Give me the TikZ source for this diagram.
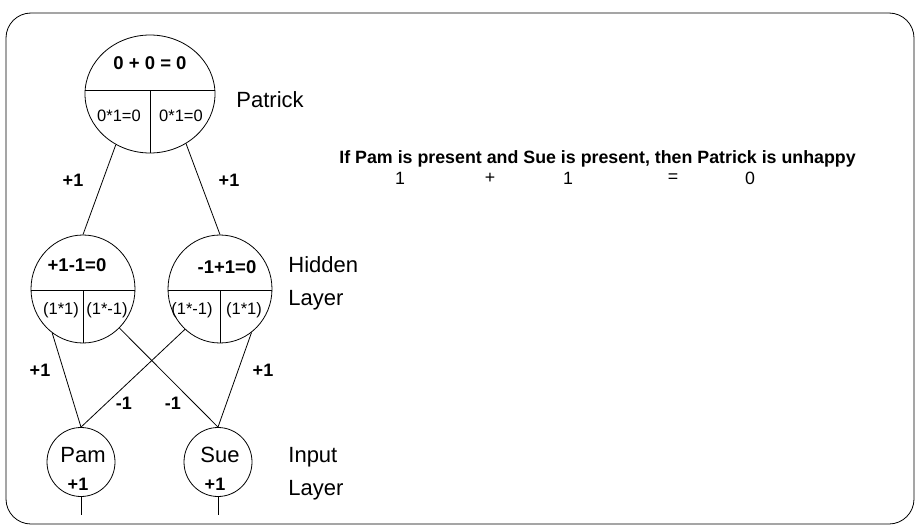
\documentclass[tikz,border=0pt]{standalone}
\usepackage{fontspec}
\setmainfont{Liberation Sans}
\usetikzlibrary{shapes.geometric}

\begin{document}
\begin{tikzpicture}[x=1pt, y=-1pt, line width=0.8pt,
  unit/.style={draw, ellipse, inner sep=0pt},
  lbl/.style={font=\fontsize{22}{26}\selectfont, inner sep=1pt},
  sum/.style={font=\bfseries\fontsize{18.5}{22}\selectfont, inner sep=1pt},
  part/.style={font=\fontsize{16.5}{20}\selectfont, inner sep=1pt},
  wt/.style={font=\bfseries\fontsize{18}{22}\selectfont, inner sep=1pt},
  rule/.style={font=\bfseries\fontsize{17.8}{22}\selectfont, inner sep=1pt},
  val/.style={font=\fontsize{17.8}{22}\selectfont, inner sep=1pt}]
  \useasboundingbox (0,0) rectangle (915,527);
  \draw[rounded corners=25pt] (6,13) rectangle (914,524);
  % output unit
  \node[unit, minimum width=130pt, minimum height=118pt] (pat) at (150,94) {};
  \draw ([yshift=4pt]pat.west) -- ([yshift=4pt]pat.east);
  \draw ([yshift=4pt]pat.center) -- (pat.south);
  \node[sum] (patsum) at (150,63) {0 + 0 = 0};
  \node[part] (patl) at (119,116) {0*1=0};
  \node[part] (patr) at (181,116) {0*1=0};
  \node[lbl, anchor=west] (patname) at (235,100) {Patrick};
  % hidden units
  \node[unit, minimum width=104pt, minimum height=108pt] (hida) at (83,289) {};
  \draw ([yshift=-1pt]hida.west) -- ([yshift=-1pt]hida.east);
  \draw ([yshift=-1pt]hida.center) -- (hida.south);
  \node[sum] (hidasum) at (77,265) {+1-1=0};
  \node[part] (hidal) at (61,310) {(1*1)};
  \node[part] (hidar) at (107,310) {(1*-1)};
  \node[unit, minimum width=104pt, minimum height=108pt] (hidb) at (220,289) {};
  \draw ([yshift=-1pt]hidb.west) -- ([yshift=-1pt]hidb.east);
  \draw ([yshift=-1pt]hidb.center) -- (hidb.south);
  \node[sum] (hidbsum) at (227,267) {-1+1=0};
  \node[part] (hidbl) at (192,310) {(1*-1)};
  \node[part] (hidbr) at (244,310) {(1*1)};
  \node[lbl, anchor=west] (hidname) at (287,265) {Hidden};
  \node[lbl, anchor=west] (hidlayer) at (287,300) {Layer};
  % input units
  \node[unit, minimum width=68pt, minimum height=69pt] (pam) at (81,462) {};
  \node[lbl] (pamname) at (83,455) {Pam};
  \node[wt] (pamval) at (78,484) {+1};
  \node[unit, minimum width=68pt, minimum height=69pt] (sue) at (218,462) {};
  \node[lbl] (suename) at (220,455) {Sue};
  \node[wt] (sueval) at (215,484) {+1};
  \node[lbl, anchor=west] (inname) at (287,457) {Input};
  \node[lbl, anchor=west] (inlayer) at (287,490) {Layer};
  \coordinate (pamin) at (81,515);
  \coordinate (suein) at (218,515);
  % connections
  \draw (pat.236) -- (hida.90);
  \draw (pat.306) -- (hidb.90);
  \draw (hida.235) -- (pam.90);
  \draw (hida.313) -- (sue.90);
  \draw (hidb.229) -- (pam.90);
  \draw (hidb.306) -- (sue.90);
  \draw (pam.south) -- (pamin);
  \draw (sue.south) -- (suein);
  % weights
  \node[wt] (w1) at (73,180) {+1};
  \node[wt] (w2) at (229,180) {+1};
  \node[wt] (w3) at (40,370) {+1};
  \node[wt] (w4) at (263,370) {+1};
  \node[wt] (w5) at (124,403) {-1};
  \node[wt] (w6) at (173,403) {-1};
  % rule
  \node[rule, anchor=west] (ruletext) at (338,159) {If Pam is present and Sue is present, then Patrick is unhappy};
  \node[val] (r1) at (400,178) {1};
  \node[val] (r2) at (490,178) {+};
  \node[val] (r3) at (568,178) {1};
  \node[val] (r4) at (673,178) {=};
  \node[val] (r5) at (750,178) {0};
\end{tikzpicture}
\end{document}
